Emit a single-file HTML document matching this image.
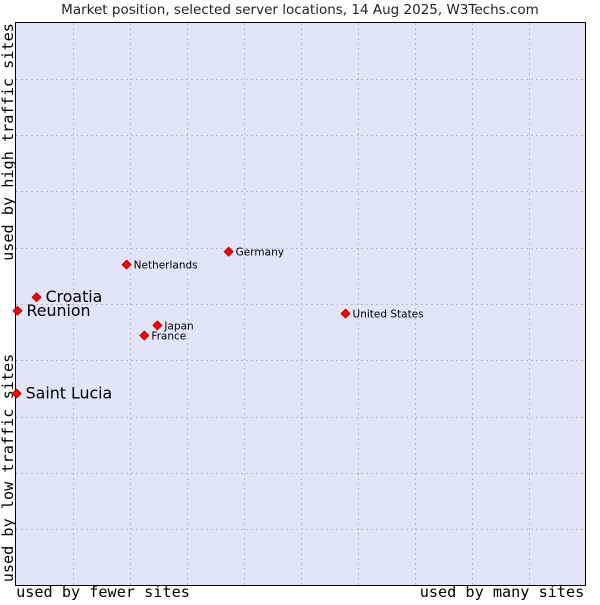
<!DOCTYPE html>
<html><head><meta charset="utf-8"><style>
body{margin:0;background:#fff;}
svg text{font-family:"DejaVu Sans","Liberation Sans",sans-serif;}
.mono{font-family:'DejaVu Sans Mono','Liberation Mono',monospace !important;}
</style></head><body>
<svg id="chart" width="600" height="600" xmlns="http://www.w3.org/2000/svg">
<text x="300" y="14" text-anchor="middle" font-size="13.5" fill="#222">Market position, selected server locations, 14 Aug 2025, W3Techs.com</text>
<rect x="15.5" y="22.5" width="570" height="563" fill="#e3e4f8" stroke="#000" stroke-width="1"/>
<g id="grid"></g>
<text class="mono" x="103" y="597" text-anchor="middle" font-size="15.2">used by fewer sites</text>
<text class="mono" x="502" y="597" text-anchor="middle" font-size="15.2">used by many sites</text>
<text class="mono" transform="translate(13,468) rotate(-90)" text-anchor="middle" font-size="15.2">used by low traffic sites</text>
<text class="mono" transform="translate(13,142) rotate(-90)" text-anchor="middle" font-size="15.2">used by high traffic sites</text>
<g id="points"></g>
</svg>
<script>
const categories=["Croatia","Reunion","Saint Lucia","Netherlands","Germany","Japan","France","United States"];
const xValues=[3.7,0.35,0.2,19.5,37.4,24.9,22.6,57.9];
const yValues=[51.2,48.8,34.1,57.0,59.3,46.2,44.4,48.3];
const highlighted=[true,true,true,false,false,false,false,false];
const NS="http://www.w3.org/2000/svg";
const X0=15.5,W=570,Y0=585.5,H=563;
const xs=v=>X0+v/100*W, ys=v=>Y0-v/100*H;
const grid=document.getElementById('grid');
for(let i=1;i<10;i++){
  const l=document.createElementNS(NS,'line');
  
  
  const x=Math.round(xs(i*10))+0.5;
  l.setAttribute('x1',x);l.setAttribute('x2',x);l.setAttribute('y1',23);l.setAttribute('y2',585);
  l.setAttribute('stroke','#bbb');l.setAttribute('stroke-dasharray','2,3');grid.appendChild(l);
  const h=document.createElementNS(NS,'line');
  
  
  const y=Math.round(ys(i*10))+0.5;
  h.setAttribute('x1',16);h.setAttribute('x2',585);h.setAttribute('y1',y);h.setAttribute('y2',y);
  h.setAttribute('stroke','#bbb');h.setAttribute('stroke-dasharray','2,3');grid.appendChild(h);
}
const pts=document.getElementById('points');
categories.forEach((c,i)=>{
  const x=xs(xValues[i]),y=ys(yValues[i]);
  const d=document.createElementNS(NS,'path');
  
  
  d.setAttribute('d',`M${x} ${y-4.5}L${x+4.5} ${y}L${x} ${y+4.5}L${x-4.5} ${y}Z`);
  d.setAttribute('fill','#f00');d.setAttribute('stroke','#900');d.setAttribute('stroke-width','0.8');
  pts.appendChild(d);
  const t=document.createElementNS(NS,'text');
  
  
  const big=highlighted[i];
  t.setAttribute('x',x+(big?9:7));t.setAttribute('y',y+(big?5:4));
  t.setAttribute('font-size',big?15.8:10.5);t.setAttribute('fill','#000');
  t.textContent=c;pts.appendChild(t);
});
</script>
</body></html>
